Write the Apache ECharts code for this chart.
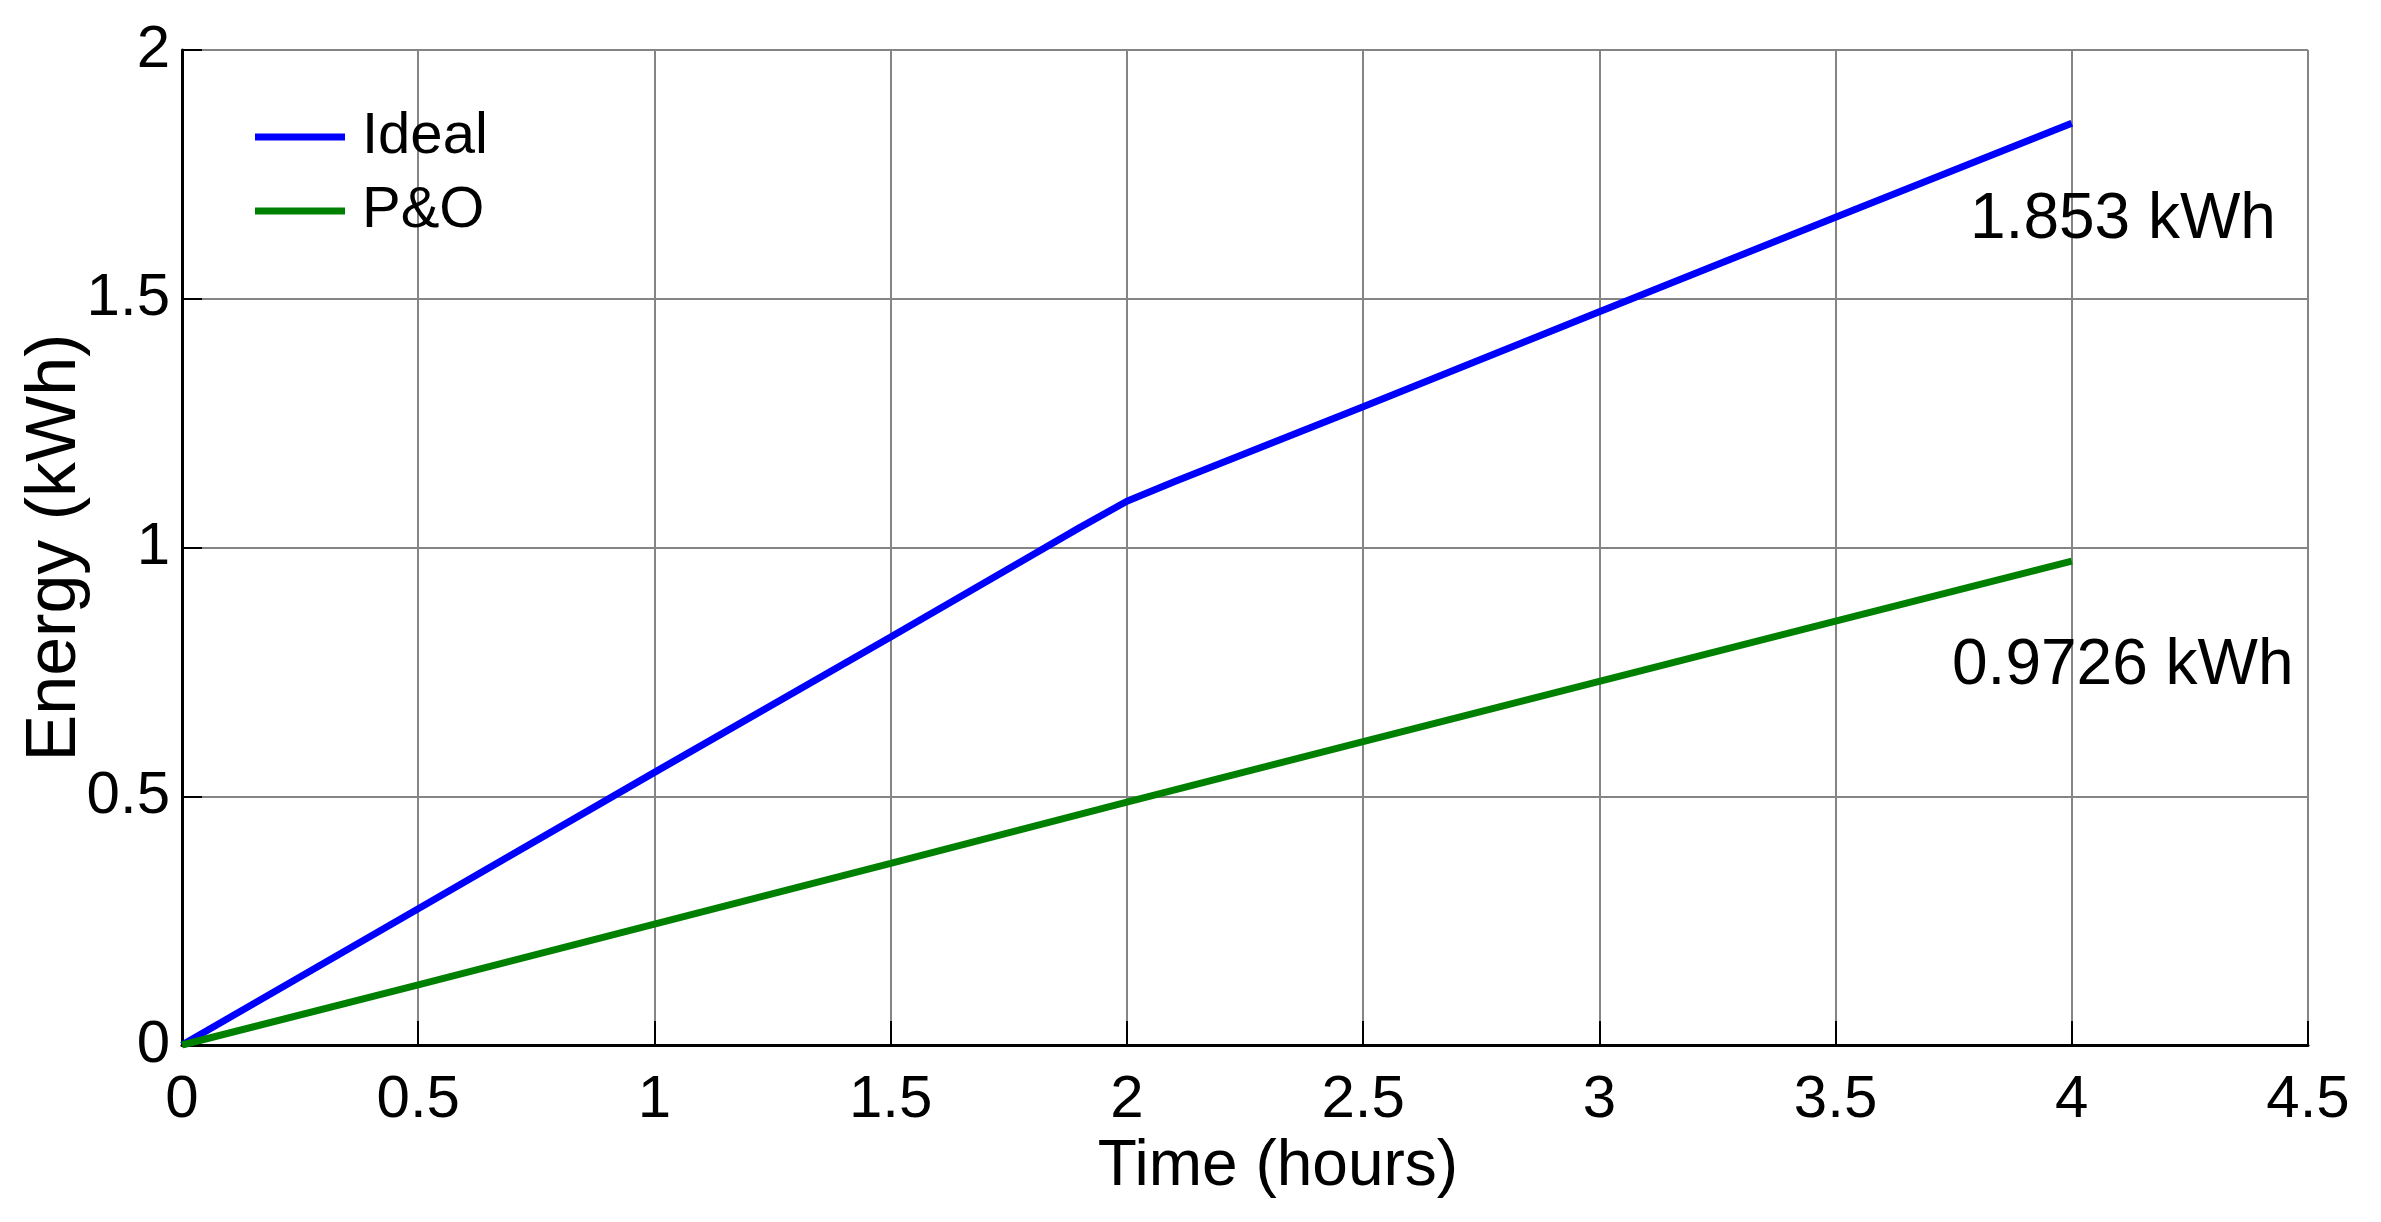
<!DOCTYPE html>
<html>
<head>
<meta charset="utf-8">
<style>
html,body{margin:0;padding:0;background:#fff;}
#chart{width:2381px;height:1222px;}
</style>
<script src="https://cdn.jsdelivr.net/npm/echarts@6/dist/echarts.min.js"></script>
</head>
<body>
<div id="chart"></div>
<script>
// Data
var seriesNames = ['Ideal', 'P&O'];
var idealTime   = [0, 0.5, 1, 1.5, 1.8, 1.9, 2, 2.1, 2.5, 3, 3.5, 4];
var idealEnergy = [0, 0.274, 0.548, 0.82, 0.985, 1.04, 1.093, 1.132, 1.283, 1.474, 1.664, 1.853];
var poTime      = [0, 0.5, 1, 1.5, 2, 2.5, 3, 3.5, 4];
var poEnergy    = [0, 0.121, 0.243, 0.365, 0.488, 0.61, 0.731, 0.852, 0.9726];
var annotations = ['1.853 kWh', '0.9726 kWh'];
var xName = 'Time (hours)';
var yName = 'Energy (kWh)';

var FONT = "'Liberation Sans',Arial,sans-serif";

function pairs(xs, ys){ return xs.map(function(x,i){ return [x, ys[i]]; }); }

var chart = echarts.init(document.getElementById('chart'), null, {renderer:'canvas'});
var gridColor = '#858585';
var option = {
  backgroundColor: '#ffffff',
  animation: false,
  grid: {left: 182, right: 73, top: 50, bottom: 177, containLabel: false, outerBoundsMode: 'none'},
  legend: {
    orient: 'vertical', left: 250, top: 103, itemGap: 16,
    itemWidth: 90, itemHeight: 7,
    textStyle: {fontFamily: FONT, fontSize: 58, color: '#000', padding: [0,0,0,12]},
    data: [{name: seriesNames[0], icon: 'rect'}, {name: seriesNames[1], icon: 'rect'}]
  },
  xAxis: {
    type: 'value', min: 0, max: 4.5, interval: 0.5,
    name: xName, nameLocation: 'middle', nameGap: 86,
    nameTextStyle: {fontFamily: FONT, fontSize: 64, color: '#000', padding: [0,0,0,66]},
    axisLine: {show: true, onZero: false, lineStyle: {color: '#000', width: 3}},
    axisTick: {show: true, inside: true, length: 24, lineStyle: {color: '#000', width: 2}},
    axisLabel: {fontFamily: FONT, fontSize: 60, color: '#000', margin: 25},
    splitLine: {show: true, lineStyle: {color: gridColor, width: 2}}
  },
  yAxis: {
    type: 'value', min: 0, max: 2, interval: 0.5,
    name: yName, nameLocation: 'middle', nameGap: 91, nameRotate: 90, nameMoveOverlap: false,
    nameTextStyle: {fontFamily: FONT, fontSize: 70, color: '#000'},
    axisLine: {show: true, onZero: false, lineStyle: {color: '#000', width: 3}},
    axisTick: {show: true, inside: true, length: 20, lineStyle: {color: '#000', width: 2}},
    axisLabel: {fontFamily: FONT, fontSize: 60, color: '#000', margin: 12},
    splitLine: {show: true, lineStyle: {color: gridColor, width: 2}}
  },
  series: [
    {name: seriesNames[0], type: 'line', data: pairs(idealTime, idealEnergy),
     showSymbol: false, symbol: 'none', lineStyle: {color: '#0000ff', width: 7}, itemStyle: {color: '#0000ff'}, z: 3},
    {name: seriesNames[1], type: 'line', data: pairs(poTime, poEnergy),
     showSymbol: false, symbol: 'none', lineStyle: {color: '#008000', width: 7}, itemStyle: {color: '#008000'}, z: 3}
  ],
  graphic: [
    {type: 'text', left: 1970, top: 188, style: {text: annotations[0], fontFamily: FONT, fontSize: 64, fill: '#000'}, z: 10},
    {type: 'text', left: 1952, top: 634, style: {text: annotations[1], fontFamily: FONT, fontSize: 64, fill: '#000'}, z: 10}
  ]
};
chart.setOption(option);
</script>
</body>
</html>
